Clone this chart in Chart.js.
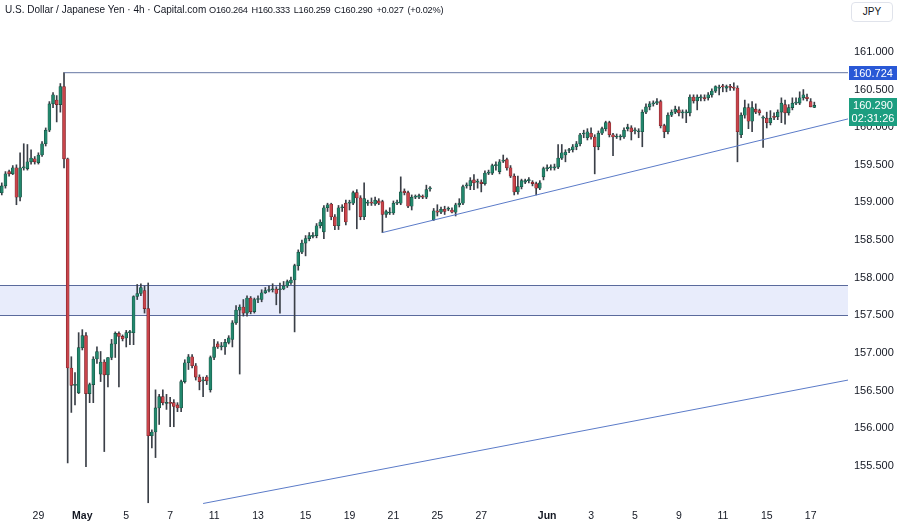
<!DOCTYPE html>
<html><head><meta charset="utf-8">
<script src="https://cdn.jsdelivr.net/npm/chart.js@4.4.1/dist/chart.umd.min.js"></script>
<style>
html,body{margin:0;padding:0;background:#fff;}
#wrap{position:relative;width:900px;height:524px;}
#title{position:absolute;left:5px;top:4px;font:10px "Liberation Sans",Arial,sans-serif;color:#131722;white-space:pre;}
#title span{font-size:9.2px;letter-spacing:-0.2px;word-spacing:1.5px;}
#cur{position:absolute;left:851px;top:2px;width:40px;height:18px;border:1px solid #e0e3eb;border-radius:4px;font:10px "Liberation Sans",Arial,sans-serif;color:#131722;text-align:center;line-height:18px;background:#fff;}
</style></head><body>
<div id="wrap"><canvas id="c" width="900" height="524"></canvas>
<div id="title">U.S. Dollar / Japanese Yen · 4h · Capital.com <span>O160.264 H160.333 L160.259 C160.290 +0.027 (+0.02%)</span></div>
<div id="cur">JPY</div></div>
<script>
const openP = [
159.13,159.22,159.41,159.38,159.46,159.07,159.46,159.45,159.54,159.58,
159.53,159.63,159.78,159.96,160.31,160.36,160.30,160.54,159.58,156.80,
156.57,156.47,157.07,157.23,156.46,156.58,156.92,156.72,156.88,156.71,
156.94,157.12,157.26,157.22,157.20,157.27,157.27,157.75,157.79,157.83,
157.59,155.90,155.95,156.27,156.42,156.33,156.34,156.34,156.31,156.27,
156.62,156.87,156.95,156.83,156.68,156.63,156.68,156.51,156.94,157.12,
157.08,157.08,157.14,157.18,157.40,157.57,157.61,157.53,157.73,157.55,
157.71,157.71,157.80,157.83,157.84,157.85,157.84,157.85,157.89,157.93,
157.97,158.16,158.34,158.46,158.52,158.55,158.56,158.69,158.61,158.93,
158.98,158.81,158.69,158.93,158.99,158.99,158.99,159.13,159.06,158.81,
158.99,159.00,158.98,159.02,159.01,158.84,158.86,158.86,158.99,158.99,
159.15,159.13,158.95,159.07,159.07,159.08,159.07,159.18,158.77,158.89,
158.87,158.91,158.91,158.90,158.87,158.97,158.99,159.22,159.22,159.30,
159.27,159.27,159.25,159.39,159.39,159.49,159.41,159.55,159.57,159.46,
159.35,159.14,159.21,159.27,159.29,159.27,159.25,159.19,159.34,159.45,
159.46,159.46,159.47,159.59,159.63,159.69,159.70,159.74,159.78,159.91,
159.86,159.92,159.87,159.74,159.92,159.98,160.06,159.90,159.87,159.87,
159.87,159.98,159.99,159.95,159.94,159.94,160.20,160.27,160.31,160.32,
160.34,160.02,159.94,160.16,160.20,160.23,160.19,160.19,160.19,160.40,
160.35,160.39,160.39,160.39,160.43,160.48,160.52,160.54,160.52,160.54,
160.53,160.52,159.90,160.16,160.26,160.08,160.24,160.22,160.12,160.12,
160.06,160.14,160.14,160.20,160.30,160.19,160.26,160.32,160.32,160.39,
160.40,160.34,160.264];
const highP = [
159.26,159.41,159.43,159.49,159.50,159.66,159.78,159.77,159.70,159.61,
159.66,159.81,159.99,160.34,160.46,160.42,160.58,160.724,159.59,156.95,
156.74,157.27,157.31,157.27,156.60,156.95,157.08,157.02,156.91,156.94,
157.18,157.28,157.28,157.24,157.30,157.30,157.76,157.91,157.92,157.89,
157.93,155.98,156.51,156.45,156.51,156.45,156.41,156.38,156.34,156.64,
156.91,156.98,156.98,156.86,156.71,156.68,156.70,156.96,157.18,157.15,
157.14,157.18,157.23,157.43,157.63,157.64,157.71,157.76,157.75,157.73,
157.76,157.84,157.87,157.89,157.92,157.88,157.93,157.95,157.97,158.01,
158.18,158.37,158.50,158.56,158.60,158.60,158.72,158.77,158.96,158.99,
158.99,158.84,158.96,158.97,159.03,159.03,159.15,159.17,159.09,159.26,
159.03,159.06,159.07,159.05,159.03,158.90,158.93,159.02,159.03,159.34,
159.18,159.15,159.10,159.10,159.11,159.10,159.23,159.21,158.92,158.97,
158.94,158.95,158.94,158.93,158.99,159.05,159.23,159.26,159.33,159.37,
159.31,159.30,159.42,159.43,159.51,159.54,159.57,159.63,159.59,159.49,
159.38,159.35,159.31,159.31,159.33,159.29,159.27,159.29,159.47,159.50,
159.50,159.51,159.77,159.77,159.70,159.72,159.77,159.81,159.92,159.96,
159.98,159.99,159.90,159.95,160.00,160.08,160.08,159.92,159.91,159.90,
159.99,160.04,160.02,159.99,159.98,160.23,160.31,160.34,160.35,160.38,
160.36,160.04,160.19,160.23,160.28,160.27,160.23,160.23,160.43,160.43,
160.43,160.43,160.43,160.46,160.51,160.55,160.56,160.57,160.56,160.57,
160.59,160.55,160.19,160.36,160.31,160.34,160.31,160.24,160.15,160.20,
160.22,160.19,160.23,160.39,160.36,160.30,160.39,160.39,160.47,160.50,
160.44,160.38,160.333];
const lowP = [
159.10,159.19,159.35,159.37,158.97,159.02,159.43,159.43,159.51,159.51,
159.51,159.61,159.75,159.94,160.26,160.07,160.20,159.46,155.54,156.21,
156.31,156.46,157.04,155.49,156.34,156.34,156.86,156.62,155.69,156.55,
156.91,156.94,156.55,157.16,157.08,157.11,157.11,157.71,157.76,157.53,
155.01,155.74,155.61,156.05,156.31,156.25,156.02,156.02,156.22,156.22,
156.60,156.78,156.80,156.64,156.51,156.42,156.58,156.48,156.91,157.06,
157.04,156.98,157.12,157.08,157.38,156.72,157.49,157.49,157.52,157.53,
157.67,157.68,157.79,157.81,157.81,157.64,157.53,157.84,157.87,157.91,
157.28,158.10,158.32,158.29,158.49,158.53,158.53,158.66,158.52,158.88,
158.77,158.64,158.64,158.88,158.70,158.90,158.97,158.65,158.77,158.77,
158.96,158.96,158.96,158.97,158.60,158.80,158.84,158.84,158.97,158.97,
159.10,158.93,158.90,159.05,159.05,159.05,159.05,159.15,158.76,158.82,
158.85,158.84,158.89,158.86,158.82,158.94,158.97,159.19,159.17,159.17,
159.19,159.14,159.23,159.37,159.37,159.43,159.38,159.53,159.43,159.33,
159.10,159.11,159.18,159.25,159.26,159.22,159.10,159.17,159.30,159.42,
159.43,159.43,159.45,159.57,159.54,159.66,159.67,159.70,159.75,159.86,
159.83,159.84,159.38,159.70,159.90,159.95,159.87,159.62,159.85,159.83,
159.85,159.95,159.83,159.91,159.86,159.74,160.18,160.23,160.28,160.30,
159.99,159.86,159.91,160.14,160.18,160.15,160.12,160.06,160.15,160.32,
160.23,160.35,160.35,160.36,160.40,160.46,160.43,160.47,160.47,160.49,
160.49,159.54,159.86,160.12,159.98,159.94,160.18,160.16,159.73,159.99,
160.03,160.10,160.10,160.06,160.04,160.16,160.23,160.30,160.30,160.36,
160.35,160.27,160.259];
const closeP = [
159.22,159.38,159.38,159.46,159.07,159.46,159.47,159.54,159.59,159.54,
159.63,159.78,159.96,160.31,160.43,160.30,160.54,159.58,156.80,156.57,
156.58,157.07,157.23,156.46,156.58,156.92,157.02,156.88,156.71,156.94,
157.12,157.26,157.22,157.19,157.27,157.28,157.75,157.79,157.87,157.59,
155.90,155.95,156.27,156.42,156.34,156.34,156.33,156.29,156.27,156.62,
156.87,156.95,156.83,156.68,156.62,156.64,156.63,156.94,157.08,157.08,
157.09,157.14,157.20,157.40,157.57,157.61,157.53,157.73,157.55,157.71,
157.71,157.80,157.83,157.84,157.85,157.79,157.85,157.89,157.95,157.97,
158.16,158.34,158.46,158.52,158.56,158.56,158.69,158.74,158.93,158.97,
158.81,158.69,158.93,158.94,158.74,159.00,159.13,159.06,158.81,159.05,
159.00,158.99,159.03,158.99,158.84,158.88,158.87,158.99,159.00,159.14,
159.13,158.95,159.07,159.08,159.09,159.07,159.17,159.19,158.89,158.87,
158.91,158.88,158.92,158.87,158.97,158.99,159.21,159.23,159.29,159.26,
159.28,159.25,159.39,159.40,159.49,159.50,159.54,159.56,159.46,159.35,
159.14,159.21,159.29,159.29,159.30,159.25,159.19,159.26,159.45,159.46,
159.47,159.47,159.59,159.66,159.67,159.70,159.74,159.78,159.90,159.92,
159.94,159.87,159.74,159.92,159.98,160.06,159.90,159.87,159.88,159.88,
159.96,160.00,159.94,159.96,159.95,160.20,160.27,160.31,160.32,160.34,
160.02,159.94,160.16,160.20,160.24,160.19,160.20,160.20,160.40,160.35,
160.40,160.40,160.38,160.43,160.48,160.54,160.53,160.535,160.54,160.53,
160.52,159.94,160.16,160.26,160.08,160.26,160.20,160.19,160.13,160.06,
160.12,160.13,160.20,160.32,160.19,160.26,160.32,160.33,160.39,160.43,
160.38,160.27,160.290];

const xTickIdx  = [10,22,34,46,58,70,83,95,107,119,131,149,161,173,185,197,209,221];
const xTickText = ['29','May','5','7','11','13','15','19','21','25','27','Jun','3','5','9','11','15','17'];
const monthTicks = ['May','Jun'];
const yTicks = [155.5,156.0,156.5,157.0,157.5,158.0,158.5,159.0,159.5,160.0,160.5,161.0];
const yRange = [154.98, 161.69];
const xRange = [-0.49, 231.2];
const zone = [157.50, 157.90];
const resistance = [[17,160.724],[231.2,160.724]];
const trendUpper = [[104,158.60],[231.2,160.11]];
const trendLower = [[55,155.00],[231.2,156.64]];
const resistanceTag = 160.724;
const lastPrice = 160.290;
const countdown = '02:31:26';

const FONT = '"Liberation Sans", Arial, sans-serif';
const idx = openP.map((_, i) => i);
const up = idx.map(i => closeP[i] >= openP[i]);
const bodies = idx.map(i => ({x: i, y: [openP[i], closeP[i]]}));
const wicks = idx.map(i => ({x: i, y: [lowP[i], highP[i]]}));
const toPts = arr => arr.map(([x, y]) => ({x, y}));

const zonePlugin = {
  id: 'zone',
  beforeDatasetsDraw(chart) {
    const {ctx, chartArea: a, scales: {y}} = chart;
    const yt = y.getPixelForValue(zone[1]), yb = y.getPixelForValue(zone[0]);
    ctx.save();
    ctx.fillStyle = '#e8ecfb';
    ctx.fillRect(a.left, yt, a.right - a.left, yb - yt);
    ctx.strokeStyle = '#5a6a9c';
    ctx.lineWidth = 1;
    ctx.beginPath();
    ctx.moveTo(a.left, Math.round(yt) + 0.5); ctx.lineTo(a.right, Math.round(yt) + 0.5);
    ctx.moveTo(a.left, Math.round(yb) + 0.5); ctx.lineTo(a.right, Math.round(yb) + 0.5);
    ctx.stroke();
    ctx.restore();
  }
};

const tagPlugin = {
  id: 'tags',
  afterDraw(chart) {
    const {ctx, chartArea: a, scales: {y}} = chart;
    ctx.save();
    const x0 = a.right + 1, w = 48;
    const yr = y.getPixelForValue(resistanceTag);
    ctx.fillStyle = '#2958d6';
    ctx.fillRect(x0, Math.round(yr) - 7, w, 14);
    ctx.fillStyle = '#ffffff';
    ctx.font = '11px ' + FONT;
    ctx.textAlign = 'center';
    ctx.textBaseline = 'middle';
    ctx.fillText(resistanceTag.toFixed(3), x0 + w / 2, Math.round(yr) + 0.5);
    const yl = y.getPixelForValue(lastPrice);
    ctx.fillStyle = '#1c9e80';
    ctx.fillRect(x0, Math.round(yl) - 7, w, 28);
    ctx.fillStyle = '#ffffff';
    ctx.fillText(lastPrice.toFixed(3), x0 + w / 2, Math.round(yl) + 0.5);
    ctx.fillText(countdown, x0 + w / 2, Math.round(yl) + 13.5);
    ctx.restore();
  }
};

new Chart(document.getElementById('c'), {
  type: 'bar',
  data: {
    datasets: [
      {type: 'line', data: toPts(resistance), borderColor: '#6677a3', borderWidth: 1, pointRadius: 0, order: 0},
      {type: 'line', data: toPts(trendUpper), borderColor: '#5b7bc8', borderWidth: 1, pointRadius: 0, order: 0},
      {type: 'line', data: toPts(trendLower), borderColor: '#5b7bc8', borderWidth: 1, pointRadius: 0, order: 0},
      {type: 'bar', data: bodies, grouped: false, barThickness: 3, minBarLength: 1,
       backgroundColor: up.map(u => u ? '#22876d' : '#c9444b'),
       borderColor: up.map(u => u ? '#164a3c' : '#6e2126'),
       borderWidth: 0.6, borderSkipped: false, order: 1},
      {type: 'bar', data: wicks, grouped: false, barThickness: 1,
       backgroundColor: '#3a3f47', order: 2}
    ]
  },
  options: {
    responsive: false, animation: false, devicePixelRatio: 1,
    layout: {padding: 0},
    plugins: {legend: {display: false}, tooltip: {enabled: false}},
    scales: {
      x: {
        type: 'linear', min: xRange[0], max: xRange[1], offset: false,
        grid: {display: false, drawTicks: false}, border: {display: false},
        afterBuildTicks: s => { s.ticks = xTickIdx.map(v => ({value: v})); },
        afterFit: s => { s.height = 19; s.paddingLeft = 0; s.paddingRight = 0; },
        ticks: {
          autoSkip: false, maxRotation: 0, padding: 5, color: '#131722',
          font: c => ({family: FONT, size: 10.5,
            weight: (c.tick && monthTicks.includes(xTickText[xTickIdx.indexOf(c.tick.value)])) ? 'bold' : 'normal'}),
          callback: v => { const k = xTickIdx.indexOf(v); return k >= 0 ? xTickText[k] : ''; }
        }
      },
      y: {
        type: 'linear', position: 'right', min: yRange[0], max: yRange[1],
        grid: {display: false, drawTicks: false}, border: {display: false},
        afterBuildTicks: s => { s.ticks = yTicks.map(v => ({value: v})); },
        afterFit: s => { s.width = 52; s.paddingTop = 0; s.paddingBottom = 0; },
        ticks: {padding: 6, color: '#131722', font: {family: FONT, size: 11},
          callback: v => Number(v).toFixed(3)}
      }
    }
  },
  plugins: [zonePlugin, tagPlugin]
});
</script>
</body></html>
